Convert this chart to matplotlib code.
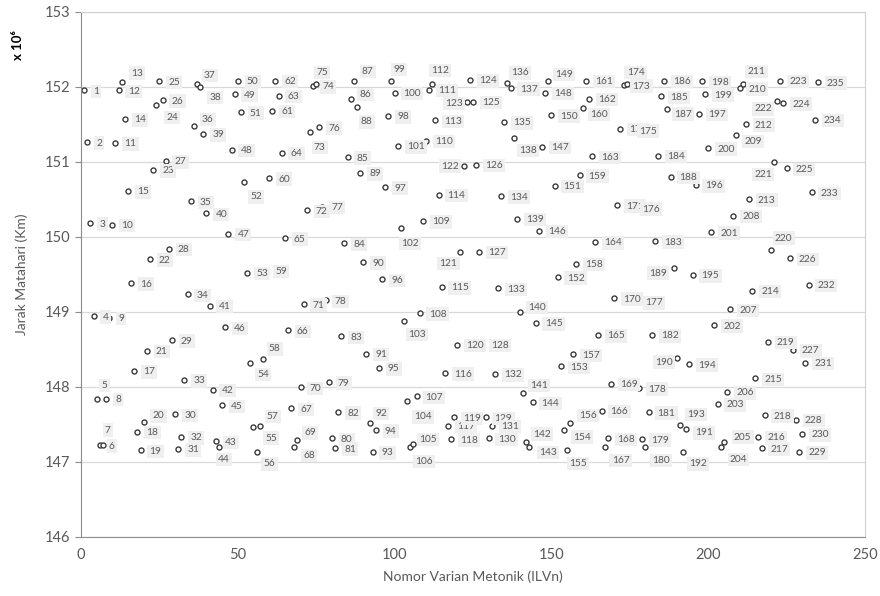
import numpy as np
import matplotlib
matplotlib.use("Agg")
import matplotlib.pyplot as plt

# Variant number (ILVn) and sun distance (x 10^6 km)
varian = list(range(1, 236))
jarak = [
    151.95, 151.26, 150.18, 148.94, 147.84, 147.22, 147.22, 147.84, 148.92, 150.16,
    151.25, 151.95, 152.06, 151.57, 150.61, 149.38, 148.21, 147.40, 147.15, 147.53,
    148.48, 149.70, 150.89, 151.75, 152.07, 151.82, 151.01, 149.84, 148.62, 147.63,
    147.17, 147.33, 148.09, 149.23, 150.47, 151.48, 152.04, 151.99, 151.37, 150.31,
    149.08, 147.96, 147.27, 147.19, 147.75, 148.79, 150.04, 151.16, 151.90, 152.08,
    151.66, 150.73, 149.52, 148.32, 147.46, 147.13, 147.48, 148.37, 149.55, 150.78,
    151.68, 152.08, 151.88, 151.12, 149.98, 148.75, 147.71, 147.19, 147.29, 147.99,
    149.10, 150.35, 151.40, 152.01, 152.04, 151.46, 150.40, 149.15, 148.06, 147.31,
    147.18, 147.66, 148.67, 149.91, 151.06, 151.84, 152.08, 151.73, 150.85, 149.66,
    148.44, 147.52, 147.13, 147.42, 148.25, 149.43, 150.66, 151.61, 152.07, 151.92,
    151.21, 150.11, 148.87, 147.81, 147.20, 147.23, 147.87, 148.98, 150.21, 151.28,
    151.96, 152.04, 151.55, 150.56, 149.33, 148.18, 147.48, 147.30, 147.59, 148.56,
    149.79, 150.94, 151.79, 152.09, 151.80, 150.96, 149.80, 148.56, 147.59, 147.31,
    147.48, 148.17, 149.31, 150.54, 151.53, 152.05, 151.98, 151.31, 150.24, 149.00,
    147.92, 147.26, 147.20, 147.79, 148.85, 150.08, 151.20, 151.92, 152.07, 151.62,
    150.68, 149.46, 148.27, 147.42, 147.15, 147.51, 148.43, 149.64, 150.82, 151.71,
    152.08, 151.84, 151.07, 149.93, 148.69, 147.68, 147.19, 147.31, 148.04, 149.18,
    150.42, 151.44, 152.02, 152.03, 151.42, 150.38, 149.13, 147.98, 147.30, 147.19,
    147.66, 148.69, 149.94, 151.08, 151.87, 152.08, 151.70, 150.80, 149.58, 148.38,
    147.49, 147.13, 147.44, 148.30, 149.49, 150.69, 151.64, 152.07, 151.90, 151.18,
    150.06, 148.82, 147.77, 147.19, 147.26, 147.93, 149.03, 150.28, 151.35, 151.98,
    152.03, 151.50, 150.50, 149.28, 148.11, 147.33, 147.18, 147.62, 148.60, 149.82,
    150.99, 151.81, 152.08, 151.78, 150.91, 149.71, 148.49, 147.56, 147.13, 147.37,
    148.32, 149.36, 150.59, 151.56, 152.06,
]

y_ticks = [146, 147, 148, 149, 150, 151, 152, 153]
x_ticks = [0, 50, 100, 150, 200, 250]

# label placement tweaks (pixels: dx right, dy down)
label_moves = {
    5: (5, -13), 7: (2, -15), 13: (9, -9), 20: (9, -6), 24: (10, 12),
    36: (8, -6), 37: (7, -8), 38: (9, 10), 44: (-1, 12), 52: (6, 15),
    54: (7, 12), 55: (12, 11), 56: (7, 12), 57: (7, -9), 58: (6, -10),
    68: (9, 8), 69: (7, -7), 73: (4, 16), 75: (0, -11), 86: (9, -4),
    87: (8, -9), 88: (4, 15), 92: (6, -9), 99: (2, -12), 102: (0, 15),
    103: (4, 13), 104: (7, 16), 105: (9, -7), 106: (2, 17), 112: (-1, -13),
    136: (4, -10), 138: (5, 12), 140: (8, -4), 141: (7, -7), 142: (7, -8),
    143: (10, 6), 149: (7, -7), 154: (9, 7), 155: (2, 13), 156: (9, -8),
    160: (7, 6), 167: (7, 13), 174: (0, -12), 180: (7, 13), 187: (7, 5),
    191: (15, 8), 192: (6, 12), 193: (1, -14), 204: (9, 12), 205: (10, -5),
    209: (8, 6), 211: (5, -13), 220: (4, -12),
}
left_labels = {121: (-3, 11), 122: (-5, 0), 123: (-4, 1), 189: (-7, 5),
               190: (-4, 4), 221: (-2, 12), 222: (-5, 8)}

plt.rcParams['font.family'] = ['Lato', 'DejaVu Sans']

fig = plt.figure(figsize=(8.8, 5.96), dpi=100)
ax = fig.add_axes([81 / 880, 1 - 536.7 / 596, 784 / 880, 525 / 596])

ax.plot(varian, jarak, linestyle='none', marker='o', markersize=3.6,
        markerfacecolor='white', markeredgecolor='#3a3a3a', markeredgewidth=1.0,
        zorder=2)

for n, y in zip(varian, jarak):
    if n in left_labels:
        dx, dy = left_labels[n]
        ha = 'right'
    else:
        dx, dy = label_moves.get(n, (9, 1))
        ha = 'left'
    ax.annotate(str(n), (n, y), xytext=(dx, -dy), textcoords='offset pixels',
                ha=ha, va='center', fontsize=7.3, color='#595959',
                bbox=dict(boxstyle='square,pad=0.22', fc='#efefef', ec='none'))

ax.set_xlim(0, 250)
ax.set_ylim(146, 153)
ax.set_xticks(x_ticks)
ax.set_yticks(y_ticks)
ax.grid(axis='y', color='#d9d9d9', linewidth=0.9)
ax.set_axisbelow(True)
for side in ['top', 'right']:
    ax.spines[side].set_color('#d0d0d0')
for side in ['left', 'bottom']:
    ax.spines[side].set_color('#8c8c8c')
ax.tick_params(axis='both', colors='#8c8c8c', labelcolor='#595959',
               labelsize=10.5, length=4)
ax.tick_params(axis='x', length=0, pad=8)

ax.set_xlabel('Nomor Varian Metonik (ILVn)', fontsize=10, color='#595959', labelpad=6)
ax.set_ylabel('Jarak Matahari (Km)', fontsize=10, color='#595959', labelpad=12)
fig.text(0.021, 0.925, 'x 10⁶', rotation=90, fontsize=9.5, fontweight='bold',
         ha='center', va='center', color='black')

fig.savefig('out.png', dpi=100)
